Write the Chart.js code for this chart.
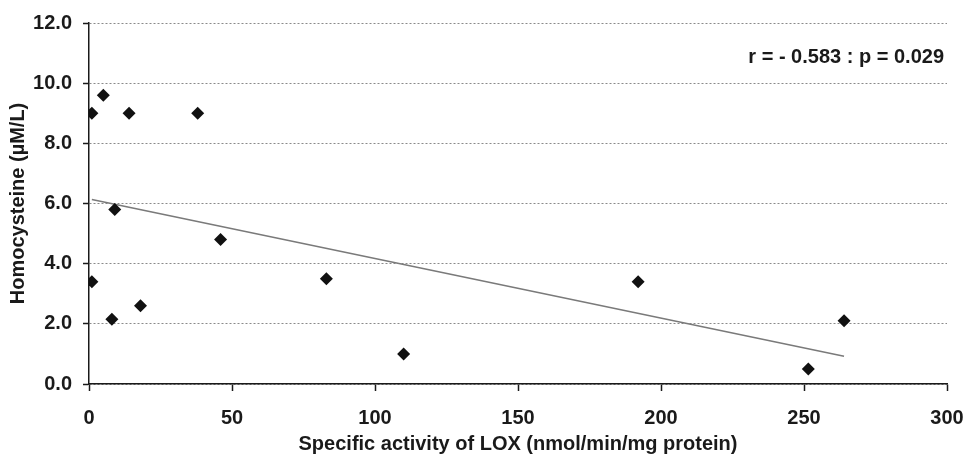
<!DOCTYPE html>
<html>
<head>
<meta charset="utf-8">
<script src="https://cdn.jsdelivr.net/npm/chart.js@4/dist/chart.umd.min.js"></script>
<style>
  html, body { margin: 0; padding: 0; background: #fff; }
  #wrap { width: 966px; height: 456px; }
</style>
</head>
<body>
<div id="wrap"><canvas id="grafica" width="966" height="456"></canvas></div>
<script>
// Datos
var loxActividad = [1, 5, 14, 38, 9, 46, 1, 8, 18, 83, 110, 192, 251.5, 264];
var homocisteina = [9.0, 9.6, 9.0, 9.0, 5.8, 4.8, 3.4, 2.15, 2.6, 3.5, 1.0, 3.4, 0.5, 2.1];
var tendenciaX = [1, 264];
var tendenciaY = [6.13, 0.92];
var ticksX = [0, 50, 100, 150, 200, 250, 300];
var ticksY = [0, 2, 4, 6, 8, 10, 12];
var textoCorrelacion = "r = - 0.583 : p = 0.029";

var fuente = "'Liberation Sans', Arial, sans-serif";

var puntos = [];
for (var i = 0; i < loxActividad.length; i++) {
    puntos.push({ x: loxActividad[i], y: homocisteina[i] });
}
var tendencia = [];
for (var j = 0; j < tendenciaX.length; j++) {
    tendencia.push({ x: tendenciaX[j], y: tendenciaY[j] });
}

// Texto con r y p
var correlacion = {
    id: 'correlacion',
    afterDatasetsDraw: function (chart) {
        var ctx = chart.ctx;
        var y = chart.scales.y.getPixelForValue(10.85);
        ctx.save();
        ctx.font = "bold 20px " + fuente;
        ctx.fillStyle = "#1a1a1a";
        ctx.textAlign = "right";
        ctx.textBaseline = "middle";
        ctx.fillText(textoCorrelacion, chart.chartArea.right - 3, y);
        ctx.restore();
    }
};

var ctx = document.getElementById("grafica");
window.miGrafica = new Chart(ctx, {
    type: "scatter",
    data: {
        datasets: [{
            label: "Homocisteina",
            data: puntos,
            pointStyle: "rectRot",
            pointRadius: 6.5,
            pointHoverRadius: 6.5,
            backgroundColor: "#111",
            borderColor: "#111",
            borderWidth: 0
        }, {
            label: "Tendencia",
            type: "line",
            data: tendencia,
            borderColor: "#7a7a7a",
            borderWidth: 1.5,
            pointRadius: 0,
            fill: false
        }]
    },
    options: {
        responsive: false,
        animation: false,
        layout: { padding: { left: 0, right: 19, top: 17, bottom: 0 } },
        plugins: {
            legend: { display: false },
            tooltip: { enabled: false }
        },
        scales: {
            x: {
                type: "linear",
                min: 0,
                max: 300,
                afterFit: function (eje) {
                    eje.height = 72;
                    eje.paddingLeft = 0;
                    eje.paddingRight = 0;
                },
                afterBuildTicks: function (eje) {
                    eje.ticks = ticksX.map(function (v) { return { value: v }; });
                },
                ticks: {
                    color: "#1a1a1a",
                    font: { family: fuente, size: 20, weight: "bold" },
                    padding: 15,
                    maxRotation: 0
                },
                grid: {
                    drawOnChartArea: false,
                    drawTicks: true,
                    tickLength: 7,
                    tickColor: "#1a1a1a",
                    tickWidth: 1.5
                },
                border: { color: "#1a1a1a", width: 1.5 },
                title: {
                    display: true,
                    text: "Specific activity of LOX (nmol/min/mg protein)",
                    color: "#1a1a1a",
                    font: { family: fuente, size: 20, weight: "bold" },
                    padding: 0
                }
            },
            y: {
                min: 0,
                max: 12,
                afterFit: function (eje) { eje.width = 89; },
                afterBuildTicks: function (eje) {
                    eje.ticks = ticksY.map(function (v) { return { value: v }; });
                },
                ticks: {
                    color: "#1a1a1a",
                    font: { family: fuente, size: 20, weight: "bold" },
                    padding: 11,
                    callback: function (v) { return Number(v).toFixed(1); }
                },
                grid: {
                    color: "#8a8a8a",
                    lineWidth: 1,
                    tickLength: 6,
                    tickColor: "#1a1a1a",
                    tickWidth: 1.5,
                    tickBorderDash: []
                },
                border: { color: "#1a1a1a", width: 1.5, dash: [2, 2] },
                title: {
                    display: true,
                    text: "Homocysteine (µM/L)",
                    color: "#1a1a1a",
                    font: { family: fuente, size: 20, weight: "bold" },
                    padding: { top: 6, bottom: 0 }
                }
            }
        }
    },
    plugins: [correlacion]
});
</script>
</body>
</html>
